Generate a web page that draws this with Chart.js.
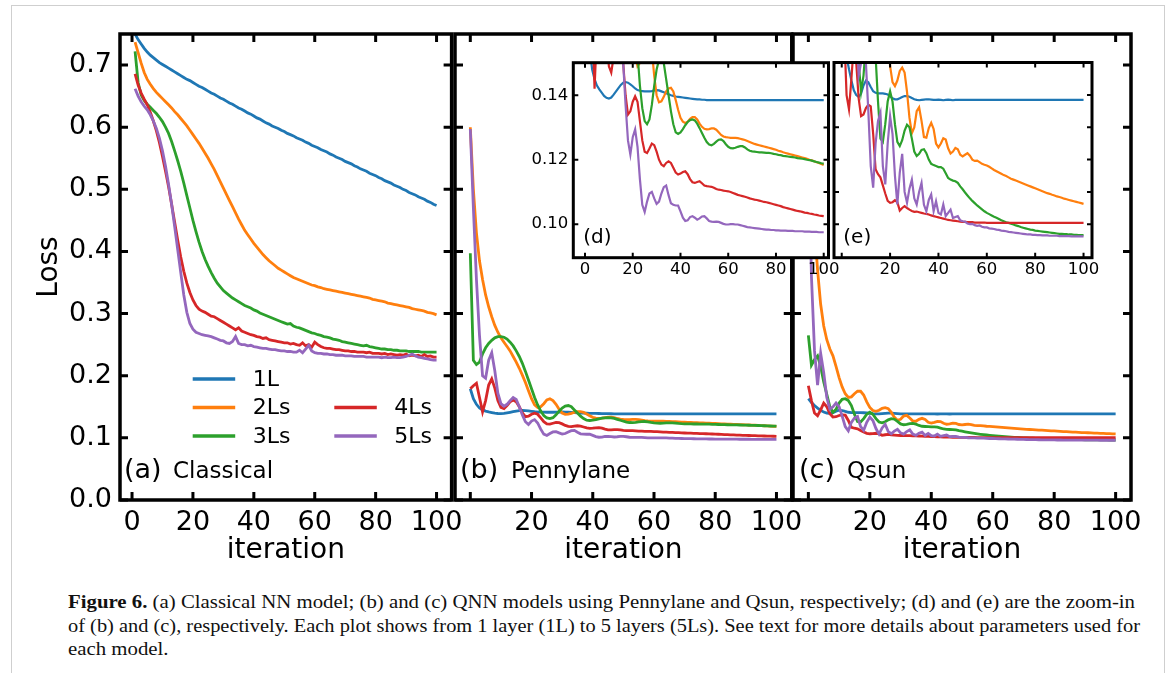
<!DOCTYPE html>
<html>
<head>
<meta charset="utf-8">
<script src="https://cdn.jsdelivr.net/npm/chart.js@4.4.1/dist/chart.umd.min.js"></script>
<style>
html, body { margin: 0; padding: 0; background: #fff; }
body { width: 1173px; height: 673px; position: relative; overflow: hidden; }
canvas { position: absolute; }
#box { position: absolute; left: 11px; top: 5px; width: 1152px; height: 700px; border: 1.5px solid #cfcfcf; }
.cap { position: absolute; left: 68px; white-space: nowrap; font-family: "Liberation Serif", serif; font-size: 18px; line-height: 24px; color: #111; transform-origin: 0 0; }
</style>
</head>
<body>
<div id="box"></div>
<canvas id="pa" width="470" height="575" style="left:0px;top:0px"></canvas>
<canvas id="pb" width="370" height="575" style="left:440px;top:0px"></canvas>
<canvas id="pc" width="395" height="575" style="left:778px;top:0px"></canvas>
<canvas id="pd" width="340" height="250" style="left:510px;top:40px"></canvas>
<canvas id="pe" width="290" height="250" style="left:824px;top:40px"></canvas>
<div class="cap" id="cap1" style="top:590px"><b>Figure 6.</b> (a) Classical NN model; (b) and (c) QNN models using Pennylane and Qsun, respectively; (d) and (e) are the zoom-in</div>
<div class="cap" id="cap2" style="top:614px">of (b) and (c), respectively. Each plot shows from 1 layer (1L) to 5 layers (5Ls). See text for more details about parameters used for</div>
<div class="cap" id="cap3" style="top:637px">each model.</div>
<script>
const FONT = 'DejaVu Sans';

// iteration index: classical runs 1..100, quantum runs 0..100
const itersA = Array.from({length: 100}, (_, i) => i + 1);
const itersQ = Array.from({length: 101}, (_, i) => i);

const layerNames = ['1L', '2Ls', '3Ls', '4Ls', '5Ls'];
const layerColors = ['#1f77b4', '#ff7f0e', '#2ca02c', '#d62728', '#9467bd'];

const mainXTicks = [0, 20, 40, 60, 80, 100];
const mainXLabelsA = ['0', '20', '40', '60', '80', '100'];
const mainXLabelsBC = ['', '20', '40', '60', '80', '100'];
const mainYTicks = [0, 0.1, 0.2, 0.3, 0.4, 0.5, 0.6, 0.7];
const mainYLabels = ['0.0', '0.1', '0.2', '0.3', '0.4', '0.5', '0.6', '0.7'];
const insetXTicks = [0, 20, 40, 60, 80, 100];
const insetXLabelsD = ['0', '20', '40', '60', '80', '100'];
const insetXLabelsE = ['', '20', '40', '60', '80', '100'];
const insetYTicksD = [0.10, 0.12, 0.14];
const insetYLabelsD = ['0.10', '0.12', '0.14'];
const insetYTicksFine = [0.10, 0.11, 0.12, 0.13, 0.14];

// (a) Classical
const classical1L = [
  0.750,0.741,0.734,0.727,0.721,0.716,0.712,0.708,0.704,0.701,
  0.698,0.695,0.692,0.689,0.686,0.683,0.680,0.677,0.675,0.672,
  0.669,0.666,0.664,0.661,0.658,0.655,0.653,0.650,0.647,0.645,
  0.642,0.639,0.637,0.634,0.631,0.629,0.626,0.623,0.621,0.618,
  0.615,0.613,0.610,0.607,0.605,0.602,0.600,0.598,0.595,0.593,
  0.590,0.588,0.586,0.583,0.581,0.579,0.576,0.574,0.571,0.569,
  0.567,0.564,0.562,0.560,0.557,0.555,0.552,0.550,0.548,0.545,
  0.543,0.541,0.538,0.536,0.533,0.531,0.529,0.526,0.524,0.522,
  0.519,0.517,0.514,0.512,0.510,0.507,0.505,0.503,0.500,0.498,
  0.495,0.493,0.491,0.488,0.486,0.484,0.481,0.479,0.476,0.474];
const classical2Ls = [
  0.737,0.720,0.703,0.688,0.677,0.669,0.662,0.656,0.651,0.646,
  0.641,0.636,0.631,0.625,0.620,0.614,0.608,0.602,0.595,0.588,
  0.581,0.574,0.566,0.558,0.550,0.541,0.532,0.522,0.512,0.502,
  0.492,0.482,0.472,0.462,0.452,0.443,0.434,0.427,0.420,0.413,
  0.407,0.401,0.395,0.390,0.385,0.381,0.377,0.373,0.370,0.367,
  0.364,0.361,0.358,0.356,0.354,0.352,0.350,0.348,0.346,0.345,
  0.343,0.342,0.340,0.339,0.338,0.337,0.336,0.335,0.334,0.333,
  0.332,0.331,0.330,0.329,0.328,0.327,0.326,0.325,0.323,0.322,
  0.321,0.320,0.319,0.317,0.316,0.315,0.314,0.313,0.312,0.311,
  0.310,0.308,0.307,0.306,0.305,0.304,0.302,0.301,0.300,0.298];
const classical3Ls = [
  0.722,0.672,0.652,0.643,0.637,0.632,0.627,0.622,0.616,0.609,
  0.600,0.590,0.577,0.562,0.546,0.529,0.510,0.490,0.470,0.450,
  0.432,0.415,0.400,0.387,0.376,0.366,0.357,0.349,0.343,0.337,
  0.333,0.329,0.325,0.322,0.319,0.316,0.313,0.311,0.309,0.306,
  0.304,0.301,0.299,0.297,0.295,0.293,0.291,0.289,0.287,0.285,
  0.283,0.284,0.280,0.278,0.277,0.275,0.273,0.271,0.269,0.268,
  0.266,0.265,0.263,0.262,0.261,0.259,0.258,0.257,0.255,0.254,
  0.253,0.252,0.251,0.250,0.249,0.248,0.249,0.247,0.246,0.245,
  0.244,0.243,0.243,0.242,0.242,0.241,0.241,0.240,0.240,0.240,
  0.239,0.239,0.239,0.239,0.238,0.238,0.238,0.238,0.238,0.238];
const classical4Ls = [
  0.686,0.668,0.655,0.645,0.636,0.624,0.610,0.594,0.575,0.553,
  0.529,0.504,0.476,0.447,0.418,0.391,0.368,0.349,0.334,0.322,
  0.313,0.307,0.304,0.302,0.299,0.296,0.295,0.292,0.289,0.286,
  0.283,0.280,0.277,0.274,0.277,0.272,0.270,0.268,0.266,0.265,
  0.263,0.262,0.260,0.261,0.258,0.257,0.256,0.255,0.254,0.253,
  0.253,0.251,0.252,0.250,0.249,0.253,0.248,0.250,0.246,0.254,
  0.250,0.247,0.245,0.244,0.244,0.243,0.242,0.242,0.241,0.240,
  0.240,0.239,0.239,0.238,0.238,0.238,0.237,0.238,0.236,0.236,
  0.236,0.235,0.236,0.234,0.235,0.234,0.233,0.234,0.233,0.235,
  0.232,0.233,0.232,0.233,0.231,0.234,0.231,0.232,0.230,0.230];
const classical5Ls = [
  0.662,0.650,0.641,0.634,0.628,0.620,0.610,0.598,0.582,0.562,
  0.537,0.508,0.476,0.440,0.403,0.366,0.330,0.302,0.284,0.275,
  0.270,0.268,0.266,0.265,0.264,0.263,0.261,0.259,0.257,0.256,
  0.253,0.252,0.255,0.263,0.252,0.250,0.250,0.248,0.249,0.247,
  0.246,0.245,0.244,0.244,0.243,0.242,0.242,0.241,0.240,0.240,
  0.239,0.239,0.238,0.238,0.241,0.237,0.243,0.249,0.240,0.237,
  0.236,0.236,0.235,0.235,0.234,0.234,0.233,0.233,0.233,0.232,
  0.232,0.232,0.231,0.231,0.231,0.231,0.230,0.230,0.230,0.230,
  0.230,0.229,0.230,0.229,0.229,0.230,0.229,0.229,0.230,0.231,
  0.233,0.235,0.232,0.230,0.229,0.228,0.227,0.226,0.225,0.225];

// (b) Pennylane, also shown in inset (d)
const penny1L = [
  0.179,0.163,0.154,0.148,0.145,0.143,0.1418,0.1408,0.1398,0.1392,
  0.1390,0.1393,0.1402,0.1412,0.1422,0.1432,0.1439,0.1441,0.1439,0.1434,
  0.1428,0.1421,0.1416,0.1414,0.1413,0.1412,0.1412,0.1412,0.1413,0.1415,
  0.1416,0.1415,0.1412,0.1409,0.1406,0.1403,0.1400,0.1398,0.1396,0.1395,
  0.1394,0.1393,0.1392,0.1391,0.1390,0.1389,0.1388,0.1387,0.1387,0.1386,
  0.1386,0.1385,0.1385,0.1385,0.1385,0.1385,0.1385,0.1385,0.1385,0.1385,
  0.1385,0.1385,0.1385,0.1385,0.1385,0.1385,0.1385,0.1385,0.1385,0.1385,
  0.1385,0.1385,0.1385,0.1385,0.1385,0.1385,0.1385,0.1385,0.1385,0.1385,
  0.1385,0.1385,0.1385,0.1385,0.1385,0.1385,0.1385,0.1385,0.1385,0.1385,
  0.1385,0.1385,0.1385,0.1385,0.1385,0.1385,0.1385,0.1385,0.1385,0.1385,
  0.1385];
const penny2Ls = [
  0.600,0.500,0.430,0.385,0.355,0.330,0.311,0.295,0.281,0.270,
  0.261,0.254,0.247,0.240,0.231,0.222,0.212,0.201,0.189,0.176,
  0.163,0.153,0.149,0.150,0.155,0.161,0.163,0.160,0.154,0.146,
  0.140,0.1378,0.1381,0.1395,0.1412,0.1421,0.1423,0.1412,0.1385,0.1355,
  0.1330,0.1318,0.1314,0.1318,0.1327,0.1332,0.1332,0.1325,0.1312,0.1302,
  0.1296,0.1294,0.1295,0.1297,0.1297,0.1293,0.1285,0.1277,0.1272,0.1270,
  0.1269,0.1268,0.1268,0.1268,0.1267,0.1265,0.1263,0.1261,0.1258,0.1255,
  0.1252,0.1249,0.1247,0.1245,0.1243,0.1241,0.1239,0.1237,0.1235,0.1233,
  0.1231,0.1228,0.1226,0.1223,0.1221,0.1219,0.1217,0.1215,0.1213,0.1211,
  0.1209,0.1207,0.1205,0.1203,0.1200,0.1198,0.1195,0.1192,0.1190,0.1187,
  0.1184];
const penny3Ls = [
  0.397,0.225,0.218,0.222,0.235,0.245,0.252,0.257,0.261,0.263,
  0.263,0.262,0.259,0.254,0.248,0.240,0.231,0.220,0.207,0.193,
  0.179,0.165,0.153,0.143,0.136,0.132,0.1310,0.1325,0.137,0.143,
  0.148,0.151,0.152,0.150,0.145,0.140,0.135,0.131,0.1285,0.1280,
  0.1285,0.1295,0.1307,0.1317,0.1323,0.1325,0.1322,0.1312,0.1298,0.1283,
  0.1268,0.1255,0.1247,0.1245,0.1249,0.1256,0.1262,0.1263,0.1258,0.1248,
  0.1240,0.1236,0.1235,0.1237,0.1240,0.1242,0.1242,0.1238,0.1232,0.1228,
  0.1226,0.1225,0.1224,0.1223,0.1223,0.1222,0.1221,0.1221,0.1220,0.1218,
  0.1217,0.1215,0.1214,0.1212,0.1211,0.1210,0.1209,0.1208,0.1207,0.1205,
  0.1204,0.1203,0.1202,0.1200,0.1199,0.1197,0.1195,0.1193,0.1191,0.1189,
  0.1188];
const penny4Ls = [
  0.179,0.184,0.188,0.165,0.142,0.160,0.185,0.195,0.180,0.160,
  0.149,0.147,0.152,0.158,0.161,0.158,0.150,0.140,0.134,0.135,
  0.138,0.1397,0.138,0.132,0.126,0.1225,0.1221,0.1235,0.1250,0.1245,
  0.1225,0.1200,0.1185,0.1180,0.1190,0.1195,0.1190,0.1175,0.1160,0.1154,
  0.1157,0.1162,0.1164,0.1155,0.1140,0.1130,0.1128,0.1131,0.1133,0.1127,
  0.1120,0.1118,0.1117,0.1116,0.1113,0.1109,0.1107,0.1106,0.1104,0.1103,
  0.1102,0.1100,0.1097,0.1094,0.1091,0.1089,0.1087,0.1085,0.1083,0.1080,
  0.1078,0.1076,0.1075,0.1073,0.1071,0.1069,0.1068,0.1066,0.1064,0.1062,
  0.1060,0.1058,0.1056,0.1053,0.1051,0.1049,0.1047,0.1045,0.1043,0.1041,
  0.1040,0.1038,0.1036,0.1035,0.1033,0.1032,0.1030,0.1029,0.1027,0.1026,
  0.1025];
const penny5Ls = [
  0.597,0.470,0.355,0.265,0.200,0.196,0.225,0.237,0.208,0.172,
  0.155,0.151,0.154,0.160,0.165,0.162,0.150,0.137,0.126,0.1216,
  0.127,0.1294,0.124,0.114,0.106,0.1038,0.107,0.1095,0.110,0.108,
  0.1063,0.107,0.1095,0.1115,0.1120,0.109,0.1065,0.1060,0.1058,0.1058,
  0.104,0.102,0.1010,0.1012,0.1022,0.1025,0.1020,0.1014,0.1018,0.1024,
  0.1025,0.1018,0.1010,0.1008,0.1007,0.1008,0.1007,0.1004,0.1001,0.0999,
  0.0999,0.1000,0.1000,0.0999,0.0999,0.0997,0.0995,0.0993,0.0991,0.0990,
  0.0989,0.0988,0.0987,0.0986,0.0985,0.0984,0.0983,0.0983,0.0982,0.0982,
  0.0981,0.0981,0.0980,0.0980,0.0980,0.0979,0.0979,0.0979,0.0978,0.0978,
  0.0978,0.0978,0.0977,0.0977,0.0977,0.0976,0.0976,0.0976,0.0975,0.0975,
  0.0975];

// (c) Qsun, also shown in inset (e)
const qsun1L = [
  0.163,0.157,0.152,0.148,0.1445,0.1415,0.1400,0.1394,0.1405,0.1430,
  0.1445,0.1440,0.1425,0.1412,0.1407,0.1405,0.1405,0.1405,0.1404,0.1402,
  0.1396,0.1390,0.1387,0.1387,0.1390,0.1394,0.1397,0.1397,0.1395,0.1391,
  0.1387,0.1385,0.1384,0.1385,0.1386,0.1387,0.1387,0.1386,0.1385,0.1385,
  0.1386,0.1385,0.1384,0.1385,0.1386,0.1385,0.1384,0.1385,0.1385,0.1385,
  0.1385,0.1385,0.1385,0.1385,0.1385,0.1385,0.1385,0.1385,0.1385,0.1385,
  0.1385,0.1385,0.1385,0.1385,0.1385,0.1385,0.1385,0.1385,0.1385,0.1385,
  0.1385,0.1385,0.1385,0.1385,0.1385,0.1385,0.1385,0.1385,0.1385,0.1385,
  0.1385,0.1385,0.1385,0.1385,0.1385,0.1385,0.1385,0.1385,0.1385,0.1385,
  0.1385,0.1385,0.1385,0.1385,0.1385,0.1385,0.1385,0.1385,0.1385,0.1385,
  0.1385];
const qsun2Ls = [
  0.700,0.560,0.440,0.370,0.315,0.280,0.258,0.243,0.232,0.215,
  0.197,0.182,0.171,0.165,0.166,0.171,0.175,0.175,0.169,0.158,
  0.149,0.1440,0.1428,0.1445,0.1475,0.1485,0.1470,0.1410,0.1330,0.1282,
  0.1300,0.1350,0.1362,0.1320,0.1270,0.1268,0.1298,0.1314,0.1295,0.1250,
  0.1238,0.1250,0.1266,0.1262,0.1235,0.1219,0.1225,0.1236,0.1232,0.1215,
  0.1210,0.1215,0.1220,0.1212,0.1200,0.1196,0.1197,0.1192,0.1187,0.1184,
  0.1182,0.1178,0.1173,0.1168,0.1164,0.1160,0.1156,0.1152,0.1149,0.1145,
  0.1141,0.1138,0.1135,0.1132,0.1129,0.1126,0.1123,0.1120,0.1117,0.1114,
  0.1111,0.1108,0.1105,0.1102,0.1099,0.1096,0.1094,0.1091,0.1089,0.1086,
  0.1084,0.1082,0.1079,0.1077,0.1075,0.1073,0.1071,0.1069,0.1067,0.1065,
  0.1063];
const qsun3Ls = [
  0.265,0.217,0.226,0.232,0.215,0.190,0.170,0.150,0.141,0.146,
  0.156,0.162,0.163,0.160,0.152,0.138,0.1265,0.1255,0.131,0.138,
  0.1412,0.138,0.131,0.1255,0.1242,0.1260,0.1290,0.1308,0.1300,0.1265,
  0.1225,0.1211,0.1218,0.1230,0.1232,0.1220,0.1200,0.1187,0.1183,0.1180,
  0.1177,0.1177,0.1172,0.1158,0.1143,0.1138,0.1135,0.1133,0.1128,0.1117,
  0.1108,0.1098,0.1089,0.1080,0.1072,0.1065,0.1058,0.1052,0.1046,0.1040,
  0.1035,0.1031,0.1027,0.1023,0.1020,0.1016,0.1012,0.1009,0.1006,0.1004,
  0.1001,0.0999,0.0996,0.0994,0.0991,0.0989,0.0987,0.0985,0.0983,0.0982,
  0.0980,0.0979,0.0978,0.0977,0.0976,0.0975,0.0974,0.0973,0.0972,0.0971,
  0.0970,0.0970,0.0969,0.0969,0.0968,0.0968,0.0967,0.0967,0.0966,0.0966,
  0.0966];
const qsun4Ls = [
  0.184,0.160,0.140,0.1356,0.145,0.156,0.150,0.139,0.1335,0.134,
  0.136,0.1370,0.1365,0.128,0.117,0.1155,0.1145,0.1120,0.1095,0.1072,
  0.1066,0.1068,0.1074,0.1068,0.1042,0.1050,0.1056,0.1050,0.1045,0.1041,
  0.1038,0.1039,0.1037,0.1035,0.1033,0.1032,0.1030,0.1027,0.1025,0.1023,
  0.1021,0.1019,0.1017,0.1015,0.1013,0.1012,0.1011,0.1010,0.1009,0.1008,
  0.1007,0.1007,0.1006,0.1006,0.1006,0.1005,0.1005,0.1005,0.1005,0.1005,
  0.1004,0.1004,0.1004,0.1004,0.1004,0.1004,0.1004,0.1004,0.1004,0.1004,
  0.1004,0.1004,0.1004,0.1004,0.1004,0.1004,0.1004,0.1004,0.1004,0.1004,
  0.1004,0.1004,0.1004,0.1004,0.1004,0.1004,0.1004,0.1004,0.1004,0.1004,
  0.1004,0.1004,0.1004,0.1004,0.1004,0.1004,0.1004,0.1004,0.1004,0.1004,
  0.1004];
const qsun5Ls = [
  0.600,0.360,0.240,0.185,0.236,0.205,0.165,0.146,0.150,0.156,
  0.150,0.135,0.118,0.1113,0.125,0.132,0.1345,0.118,0.1123,0.125,
  0.1335,0.128,0.115,0.1061,0.1160,0.1218,0.1100,0.1066,0.1110,0.1138,
  0.1080,0.1061,0.1100,0.1128,0.1060,0.1040,0.1075,0.1092,0.1040,0.1071,
  0.1035,0.1030,0.1061,0.1025,0.1035,0.1045,0.1019,0.1022,0.1025,0.1012,
  0.1009,0.1008,0.1002,0.1000,0.1001,0.0997,0.0995,0.0996,0.0992,0.0990,
  0.0990,0.0987,0.0986,0.0985,0.0983,0.0982,0.0980,0.0979,0.0978,0.0976,
  0.0975,0.0974,0.0973,0.0972,0.0971,0.0970,0.0969,0.0968,0.0968,0.0967,
  0.0967,0.0966,0.0966,0.0965,0.0965,0.0965,0.0964,0.0964,0.0964,0.0964,
  0.0963,0.0963,0.0963,0.0963,0.0963,0.0962,0.0962,0.0962,0.0962,0.0962,
  0.0962];

function drawLegend(chart) {
  const ctx = chart.ctx;
  // two columns, second column starts on the second row
  const slots = [[0, 0], [0, 1], [0, 2], [1, 1], [1, 2]];
  const colX = [192.7, 334.3];
  const rowY = [379, 407.5, 436];
  ctx.font = '22px "' + FONT + '"';
  ctx.textBaseline = 'middle';
  chart.data.datasets.forEach((ds, i) => {
    const [c, r] = slots[i];
    ctx.strokeStyle = ds.borderColor;
    ctx.lineWidth = 3.5;
    ctx.beginPath();
    ctx.moveTo(colX[c], rowY[r]);
    ctx.lineTo(colX[c] + 42.5, rowY[r]);
    ctx.stroke();
    ctx.fillStyle = '#000';
    ctx.fillText(ds.label, colX[c] + 60, rowY[r] + 1);
  });
}

function frameLayer(c) {
  return {
    id: 'frameLayer',
    beforeDraw(chart) {
      if (!c.fill) return;
      const a = chart.chartArea, ctx = chart.ctx;
      ctx.save();
      ctx.fillStyle = '#fff';
      ctx.fillRect(a.left, a.top, a.right - a.left, a.bottom - a.top);
      ctx.restore();
    },
    afterDraw(chart) {
      const {ctx, chartArea: a} = chart;
      const x = chart.scales.x, y = chart.scales.y;
      const L = c.tickL;
      ctx.save();
      ctx.strokeStyle = '#000';
      ctx.lineWidth = c.tickW;
      ctx.beginPath();
      c.frameX.forEach(v => {
        const p = x.getPixelForValue(v);
        ctx.moveTo(p, a.bottom); ctx.lineTo(p, a.bottom - L);
        ctx.moveTo(p, a.top); ctx.lineTo(p, a.top + L);
      });
      c.frameYL.forEach(v => {
        const p = y.getPixelForValue(v);
        ctx.moveTo(a.left, p); ctx.lineTo(a.left + L, p);
      });
      c.frameYR.forEach(v => {
        const p = y.getPixelForValue(v);
        ctx.moveTo(a.right, p); ctx.lineTo(a.right - L, p);
      });
      ctx.stroke();
      ctx.lineWidth = c.frameW;
      ctx.strokeRect(a.left, a.top, a.right - a.left, a.bottom - a.top);
      ctx.fillStyle = '#000';
      ctx.textAlign = 'left';
      ctx.textBaseline = 'alphabetic';
      (c.tags || []).forEach(t => {
        ctx.font = t.size + 'px "' + FONT + '"';
        ctx.fillText(t.text, a.left + t.dx, a.bottom - t.dy);
      });
      if (c.legend) drawLegend(chart);
      ctx.restore();
    }
  };
}

function makeChart(id, c) {
  const datasets = c.values.map((vals, i) => ({
    label: layerNames[i],
    data: vals.map((v, k) => ({x: c.iters[k], y: v})),
    borderColor: layerColors[i],
    borderWidth: c.lineW,
    pointRadius: 0,
    tension: 0,
    fill: false,
    order: 5 - i
  }));
  return new Chart(document.getElementById(id), {
    type: 'line',
    data: {datasets: datasets},
    options: {
      responsive: false,
      animation: false,
      events: [],
      layout: {padding: c.pad},
      plugins: {legend: {display: false}, tooltip: {enabled: false}},
      scales: {
        x: {
          type: 'linear', position: 'bottom', min: c.xMin, max: c.xMax,
          afterBuildTicks: s => { s.ticks = c.xTicks.map(v => ({value: v})); },
          afterFit: s => { s.height = c.xH; },
          grid: {display: false, drawTicks: false},
          border: {display: false},
          ticks: {autoSkip: false, maxRotation: 0, minRotation: 0, padding: c.xPad, color: '#000',
                  font: {family: FONT, size: c.tickSize}, callback: (v, i) => c.xLabels[i]},
          title: {display: !!c.xTitle, text: c.xTitle || '', color: '#000',
                  font: {family: FONT, size: 28}, padding: {top: 0, bottom: 7}}
        },
        y: {
          type: 'linear', position: 'left', min: c.yMin, max: c.yMax,
          afterBuildTicks: s => { s.ticks = c.yTicks.map(v => ({value: v})); },
          afterFit: s => { s.width = c.yW; },
          grid: {display: false, drawTicks: false},
          border: {display: false},
          ticks: {display: !!c.yLabels, autoSkip: false, padding: c.yPad, color: '#000',
                  font: {family: FONT, size: c.tickSize},
                  callback: (v, i) => (c.yLabels ? c.yLabels[i] : '')},
          title: {display: !!c.yTitle, text: c.yTitle || '', color: '#000',
                  font: {family: FONT, size: 28}, padding: {top: 33, bottom: 0}}
        }
      }
    },
    plugins: [frameLayer(c)]
  });
}

const mainCommon = {
  xMin: -5, xMax: 105, yMin: 0, yMax: 0.75, xTicks: mainXTicks, yTicks: mainYTicks,
  frameX: mainXTicks, frameYL: mainYTicks, frameYR: mainYTicks,
  tickL: 8, tickW: 3, frameW: 3.5, lineW: 2.8, tickSize: 27, xPad: 7, yPad: 8, xH: 75,
  xTitle: 'iteration'
};

makeChart('pa', Object.assign({}, mainCommon, {
  iters: itersA, values: [classical1L, classical2Ls, classical3Ls, classical4Ls, classical5Ls],
  xMin: -3.95, xMax: 104.95, xLabels: mainXLabelsA, yLabels: mainYLabels, yTitle: 'Loss',
  yW: 120, pad: {left: 0, top: 34, right: 15, bottom: 0}, legend: true,
  tags: [{text: '(a)', dx: 4, dy: 22, size: 27}, {text: 'Classical', dx: 53, dy: 22, size: 23}]
}));
makeChart('pb', Object.assign({}, mainCommon, {
  iters: itersQ, values: [penny1L, penny2Ls, penny3Ls, penny4Ls, penny5Ls],
  xLabels: mainXLabelsBC, yW: 15, pad: {left: 0, top: 34, right: 17, bottom: 0},
  tags: [{text: '(b)', dx: 5, dy: 22, size: 27}, {text: 'Pennylane', dx: 56, dy: 22, size: 23}]
}));
makeChart('pc', Object.assign({}, mainCommon, {
  iters: itersQ, values: [qsun1L, qsun2Ls, qsun3Ls, qsun4Ls, qsun5Ls],
  xLabels: mainXLabelsBC, yW: 15, pad: {left: 0, top: 34, right: 42, bottom: 0},
  tags: [{text: '(c)', dx: 6, dy: 22, size: 27}, {text: 'Qsun', dx: 54, dy: 22, size: 23}]
}));

const insetCommon = {
  yMin: 0.0896, yMax: 0.1501, xTicks: insetXTicks, frameX: insetXTicks, frameYR: insetYTicksFine,
  tickL: 5, tickW: 2, frameW: 3, lineW: 2.2, tickSize: 16.5, xPad: 2, yPad: 5, xH: 32.3, fill: true
};
makeChart('pd', Object.assign({}, insetCommon, {
  iters: itersQ, values: [penny1L, penny2Ls, penny3Ls, penny4Ls, penny5Ls],
  xMin: -4.9, xMax: 102, xLabels: insetXLabelsD, yTicks: insetYTicksD, yLabels: insetYLabelsD,
  frameYL: insetYTicksD, yW: 63.3, pad: {left: 0, top: 22.7, right: 21.5, bottom: 0},
  tags: [{text: '(d)', dx: 10, dy: 14.7, size: 20}]
}));
makeChart('pe', Object.assign({}, insetCommon, {
  iters: itersQ, values: [qsun1L, qsun2Ls, qsun3Ls, qsun4Ls, qsun5Ls],
  xMin: -3.2, xMax: 103.5, xLabels: insetXLabelsE, yTicks: insetYTicksFine,
  frameYL: insetYTicksFine, yW: 10, pad: {left: 0, top: 22.5, right: 22, bottom: 0},
  tags: [{text: '(e)', dx: 9.3, dy: 14.7, size: 20}]
}));

// stretch caption lines to the measured widths
const c1 = document.getElementById('cap1');
const c2 = document.getElementById('cap2');
const c3 = document.getElementById('cap3');
const k1 = 1067 / c1.getBoundingClientRect().width;
const k2 = 1072 / c2.getBoundingClientRect().width;
c1.style.transform = 'scaleX(' + k1 + ')';
c2.style.transform = 'scaleX(' + k2 + ')';
c3.style.transform = 'scaleX(' + k1 + ')';
</script>
</body>
</html>
